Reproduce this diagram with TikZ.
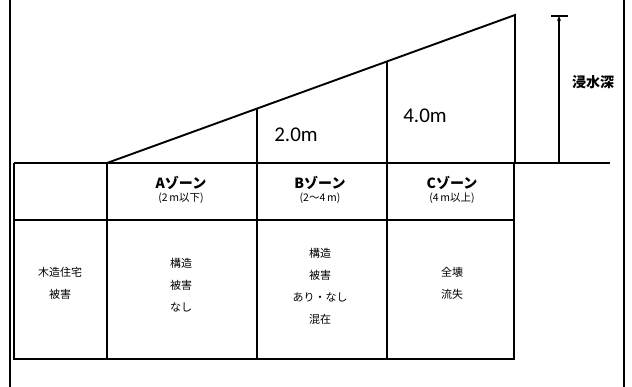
\documentclass[tikz,border=0pt]{standalone}
\usepackage{fontspec}
\setmainfont{Noto Sans CJK JP}
\newfontfamily\latf{Carlito}
\usetikzlibrary{arrows.meta,calc}
\begin{document}
\begin{tikzpicture}[x=1pt,y=-1pt,
  frame/.style={line width=2.4pt},
  grid/.style={line width=1.9pt},
  thin/.style={line width=1.4pt},
  hdr/.style={font=\fontsize{14}{15}\selectfont\bfseries, inner sep=0pt},
  sub/.style={font=\fontsize{10.5}{11}\selectfont, inner sep=0pt},
  body/.style={font=\fontsize{11}{22}\selectfont, align=center, inner sep=0pt},
  dim/.style={font=\latf\fontsize{21}{21}\selectfont, inner sep=0pt}]
\useasboundingbox (0,0) rectangle (632,387);
% frame
\coordinate (fl1) at (10,0);  \coordinate (fl2) at (10,387);
\coordinate (fr1) at (624,0); \coordinate (fr2) at (624,387);
\draw[frame] (fl1) -- (fl2);
\draw[frame] (fr1) -- (fr2);
% table grid
\coordinate (t0) at (14,163);  \coordinate (t1) at (107,163);
\coordinate (t2) at (257,163); \coordinate (t3) at (387,163);
\coordinate (t4) at (514,163); \coordinate (wl) at (610,163);
\coordinate (m0) at (14,220);  \coordinate (m4) at (514,220);
\coordinate (b0) at (14,359);  \coordinate (b1) at (107,359);
\coordinate (b2) at (257,359); \coordinate (b3) at (387,359);
\coordinate (b4) at (514,359);
\draw[grid] (t0) -- (wl);
\draw[grid] (m0) -- (m4);
\draw[grid] (t0) -- (b0) -- (b4) -- (t4);
\draw[grid] (t1) -- (b1);
\draw[grid] (t2) -- (b2);
\draw[grid] (t3) -- (b3);
% triangle
\coordinate (apex) at (515,15);
\coordinate (abase) at (515,163);
\draw[grid] (t1) -- (apex) -- (abase);
\coordinate (v2) at ($(t1)!0.3676!(apex)$);
\coordinate (v3) at ($(t1)!0.6863!(apex)$);
\draw[grid] (t2) -- (v2);
\draw[grid] (t3) -- (v3);
% dimension
\coordinate (d0) at (559,163); \coordinate (d1) at (559,16);
\coordinate (tb1) at (551,16); \coordinate (tb2) at (568,16);
\draw[thin,-{Stealth[length=5pt,width=4pt]}] (d0) -- (d1);
\draw[grid] (tb1) -- (tb2);
\node[font=\fontsize{14}{15}\selectfont\bfseries, inner sep=0pt] (depth) at (593,82) {浸水深};
% depth labels
\node[dim] (l2) at (296,135) {2.0m};
\node[dim] (l4) at (425,116) {4.0m};
% headers
\node[hdr] (ha) at (181,183) {Aゾーン};
\node[sub] (sa) at (181,198) {(2\,m以下)};
\node[hdr] (hb) at (320,183) {Bゾーン};
\node[sub] (sb) at (320,198) {(2～4\,m)};
\node[hdr] (hc) at (452,183) {Cゾーン};
\node[sub] (sc) at (452,198) {(4\,m以上)};
% body
\node[body] (c1) at (60,283) {木造住宅\\被害};
\node[body] (c2) at (181,285) {構造\\被害\\なし};
\node[body] (c3) at (320,286) {構造\\被害\\あり・なし\\混在};
\node[body] (c4) at (452,283) {全壊\\流失};
\end{tikzpicture}
\end{document}
